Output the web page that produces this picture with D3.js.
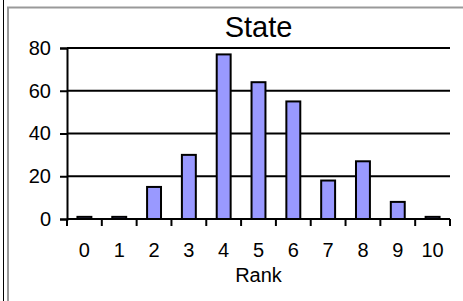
<!DOCTYPE html>
<html>
<head>
<meta charset="utf-8">
<script src="https://cdn.jsdelivr.net/npm/d3@7"></script>
<style>
  body { margin: 0; background: #fff; }
  svg { display: block; font-family: Arial, "Liberation Sans", sans-serif; }
</style>
</head>
<body>
<div id="chart"></div>
<script>
// rank histogram, values
const ranks = [0, 1, 2, 3, 4, 5, 6, 7, 8, 9, 10];
const counts = [1, 1, 15, 30, 77, 64, 55, 18, 27, 8, 1];
const yTicks = [0, 20, 40, 60, 80];

const W = 463, H = 301;
const margin = {top: 48, right: 13, bottom: 82, left: 67};
const width = W - margin.left - margin.right;
const height = H - margin.top - margin.bottom;

const svg = d3.select("#chart").append("svg")
    .attr("width", W)
    .attr("height", H);

// frame lines around the chart area
svg.append("line")
    .attr("x1", 3.5).attr("x2", 3.5).attr("y1", 0).attr("y2", H)
    .attr("stroke", "#000").attr("stroke-width", 1);
svg.append("path")
    .attr("d", `M8,${H} V7.5 H${W}`)
    .attr("fill", "none").attr("stroke", "#999").attr("stroke-width", 2);

const g = svg.append("g")
    .attr("transform", `translate(${margin.left},${margin.top})`);

const x = d3.scaleBand()
    .domain(ranks)
    .range([0, width])
    .paddingInner(0.6)
    .paddingOuter(0.3);

const y = d3.scaleLinear()
    .domain([0, 80])
    .range([height, 0]);

// gridlines
g.append("g")
    .selectAll("line")
    .data(yTicks.filter(d => d > 0))
    .join("line")
    .attr("x1", 0).attr("x2", width)
    .attr("y1", d => y(d)).attr("y2", d => y(d))
    .attr("stroke", "#000").attr("stroke-width", 2);

// bars
g.append("g")
    .selectAll("rect")
    .data(counts)
    .join("rect")
    .attr("x", (d, i) => x(ranks[i]))
    .attr("y", d => y(d))
    .attr("width", x.bandwidth())
    .attr("height", d => height - y(d))
    .attr("fill", "#9999ff")
    .attr("stroke", "#000")
    .attr("stroke-width", 2);

// y axis
const yAxis = g.append("g")
    .call(d3.axisLeft(y).tickValues(yTicks).tickSize(7).tickPadding(9));
yAxis.select(".domain").attr("stroke-width", 2);
yAxis.selectAll(".tick line").attr("stroke-width", 2);
yAxis.selectAll("text").attr("font-size", 20).attr("fill", "#000")
    .attr("font-family", "Arial, 'Liberation Sans', sans-serif");

// x axis: ticks sit between categories
const xAxis = g.append("g")
    .attr("transform", `translate(0,${height})`);
xAxis.append("line")
    .attr("x1", 0).attr("x2", width)
    .attr("stroke", "#000").attr("stroke-width", 2);
xAxis.selectAll(".sep")
    .data(d3.range(ranks.length + 1))
    .join("line")
    .attr("class", "sep")
    .attr("x1", i => i * width / ranks.length)
    .attr("x2", i => i * width / ranks.length)
    .attr("y1", 0).attr("y2", 7)
    .attr("stroke", "#000").attr("stroke-width", 2);
xAxis.selectAll("text")
    .data(ranks)
    .join("text")
    .attr("x", d => x(d) + x.bandwidth() / 2)
    .attr("y", 38)
    .attr("text-anchor", "middle")
    .attr("font-size", 20)
    .text(d => d);

// axis title and chart title
svg.append("text")
    .attr("x", margin.left + width / 2)
    .attr("y", 282)
    .attr("text-anchor", "middle")
    .attr("font-size", 20)
    .text("Rank");

svg.append("text")
    .attr("x", margin.left + width / 2)
    .attr("y", 37)
    .attr("text-anchor", "middle")
    .attr("font-size", 29)
    .text("State");
</script>
</body>
</html>
